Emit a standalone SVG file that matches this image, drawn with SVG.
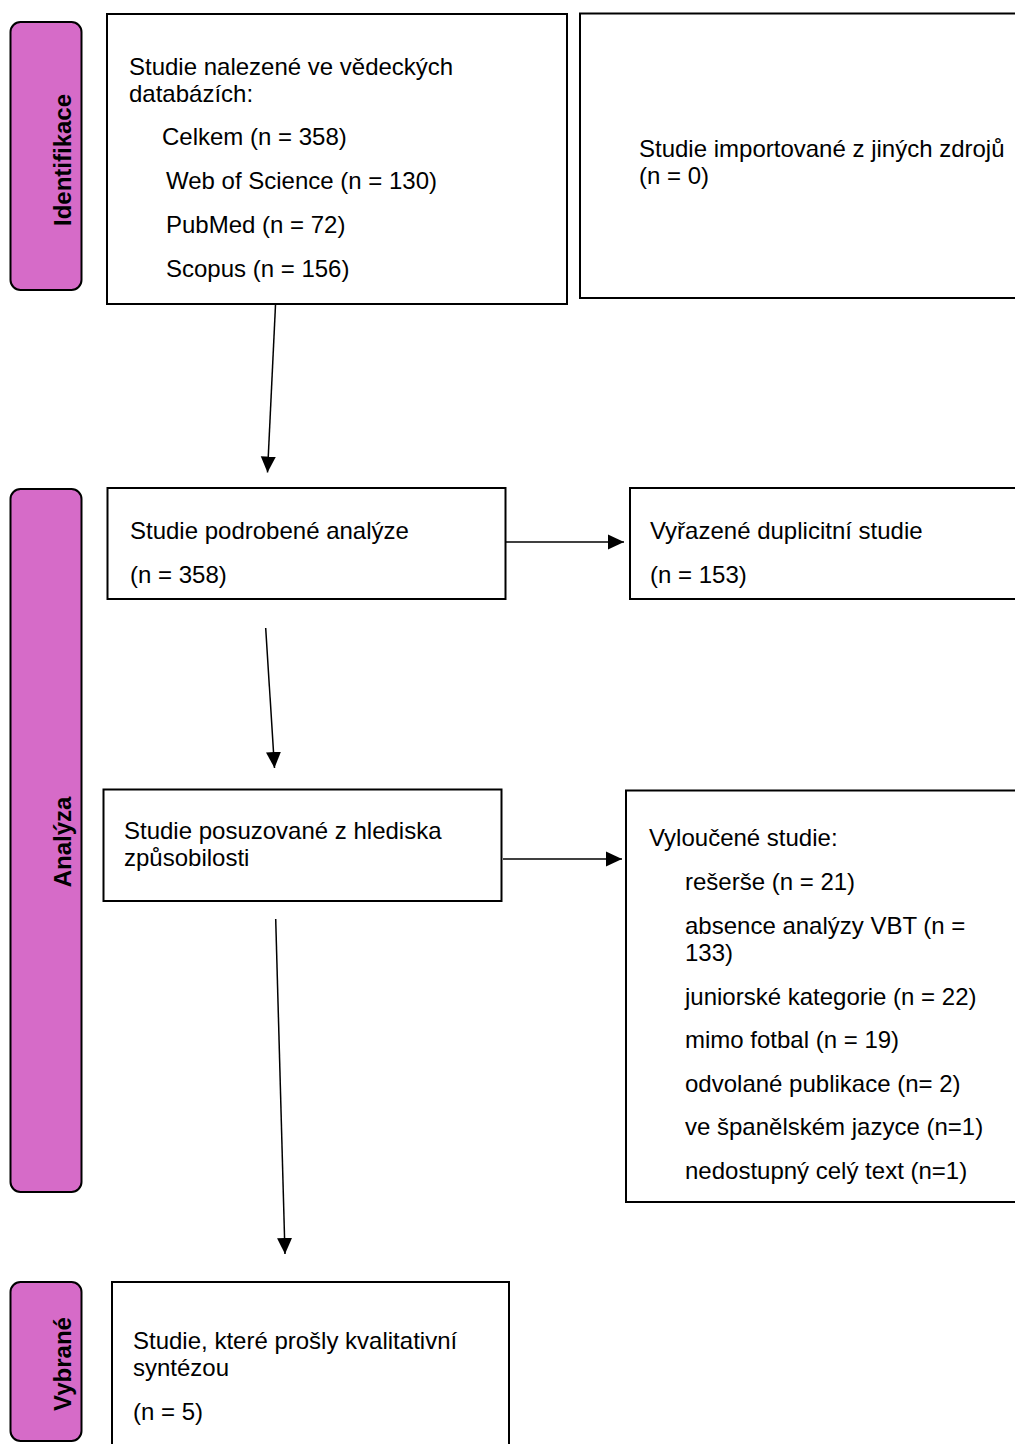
<svg xmlns="http://www.w3.org/2000/svg" width="1015" height="1444" viewBox="0 0 1015 1444">
<style>
  .box { fill: #ffffff; stroke: #000000; stroke-width: 2; }
  .pill { fill: #d66bc8; stroke: #000000; stroke-width: 2; }
  .t { font-family: "Liberation Sans", Arial, sans-serif; font-size: 24px; fill: #000000; }
  .p { font-family: "Liberation Sans", Arial, sans-serif; font-size: 24px; font-weight: bold; fill: #000000; text-anchor: middle; }
  .c { stroke: #000000; stroke-width: 1.5; fill: none; marker-end: url(#ah); }
</style>
<defs>
  <marker id="ah" markerUnits="userSpaceOnUse" markerWidth="16" markerHeight="16" viewBox="0 0 16 15" refX="16" refY="7.5" orient="auto">
    <path d="M0,0 L16,7.5 L0,15 Z" fill="#000000"/>
  </marker>
</defs>
<rect width="1015" height="1444" fill="#ffffff"/>

<g id="phase-identifikace">
  <rect class="pill" x="10.5" y="22" width="71" height="268" rx="10"/>
  <text class="p" transform="translate(71,160) rotate(-90)">Identifikace</text>
</g>
<g id="phase-analyza">
  <rect class="pill" x="10.5" y="489" width="71" height="703" rx="10"/>
  <text class="p" transform="translate(71,842) rotate(-90)">Analýza</text>
</g>
<g id="phase-vybrane">
  <rect class="pill" x="10.5" y="1282" width="71" height="159" rx="10"/>
  <text class="p" transform="translate(71,1364) rotate(-90)">Vybrané</text>
</g>

<g id="connectors">
  <line class="c" x1="275.5" y1="305" x2="267.5" y2="472.5"/>
  <line class="c" x1="265.7" y1="628" x2="274.5" y2="768"/>
  <line class="c" x1="275.7" y1="919" x2="285" y2="1254"/>
  <line class="c" x1="506" y1="542" x2="624" y2="542"/>
  <line class="c" x1="503" y1="859" x2="622" y2="859"/>
</g>

<g id="node-databases">
  <rect class="box" x="107" y="14" width="460" height="290"/>
  <text class="t" x="129" y="75">Studie nalezené ve vědeckých</text>
  <text class="t" x="129" y="102">databázích:</text>
  <text class="t" x="162" y="145">Celkem (n = 358)</text>
  <text class="t" x="166" y="189">Web of Science (n = 130)</text>
  <text class="t" x="166" y="233">PubMed (n = 72)</text>
  <text class="t" x="166" y="277">Scopus (n = 156)</text>
</g>

<g id="node-other-sources">
  <rect class="box" x="580" y="13.5" width="450" height="284.5"/>
  <text class="t" x="639" y="157">Studie importované z jiných zdrojů</text>
  <text class="t" x="639" y="184">(n = 0)</text>
</g>

<g id="node-analyzed">
  <rect class="box" x="107.5" y="488" width="398" height="111"/>
  <text class="t" x="130" y="539">Studie podrobené analýze</text>
  <text class="t" x="130" y="583">(n = 358)</text>
</g>

<g id="node-duplicates">
  <rect class="box" x="630" y="488" width="400" height="111"/>
  <text class="t" x="650" y="539">Vyřazené duplicitní studie</text>
  <text class="t" x="650" y="583">(n = 153)</text>
</g>

<g id="node-eligibility">
  <rect class="box" x="103.5" y="789.5" width="398" height="111.5"/>
  <text class="t" x="124" y="839">Studie posuzované z hlediska</text>
  <text class="t" x="124" y="866">způsobilosti</text>
</g>

<g id="node-excluded">
  <rect class="box" x="626" y="790.5" width="400" height="411.5"/>
  <text class="t" x="649" y="846">Vyloučené studie:</text>
  <text class="t" x="685" y="890">rešerše (n = 21)</text>
  <text class="t" x="685" y="934">absence analýzy VBT (n =</text>
  <text class="t" x="685" y="961">133)</text>
  <text class="t" x="685" y="1005">juniorské kategorie (n = 22)</text>
  <text class="t" x="685" y="1048">mimo fotbal (n = 19)</text>
  <text class="t" x="685" y="1092">odvolané publikace (n= 2)</text>
  <text class="t" x="685" y="1135">ve španělském jazyce (n=1)</text>
  <text class="t" x="685" y="1179">nedostupný celý text (n=1)</text>
</g>

<g id="node-included">
  <rect class="box" x="112" y="1282" width="397" height="200"/>
  <text class="t" x="133" y="1349">Studie, které prošly kvalitativní</text>
  <text class="t" x="133" y="1376">syntézou</text>
  <text class="t" x="133" y="1420">(n = 5)</text>
</g>
</svg>
